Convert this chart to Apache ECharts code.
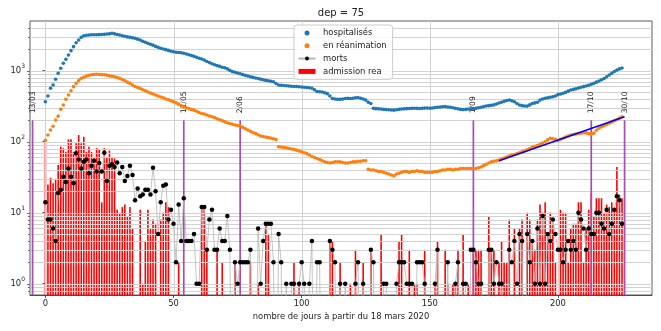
<!DOCTYPE html>
<html><head><meta charset="utf-8">
<script src="https://cdn.jsdelivr.net/npm/echarts@6/dist/echarts.min.js"></script>
<style>html,body{margin:0;padding:0;background:#fff;}#c{width:661px;height:331px;}</style>
</head><body><div id="c"></div>
<script>
// day index = position in array (0 = 18 mars 2020)
const hospitalises = [
366,440,565,630,757,920,1080,1270,1450,1660,
1915,2180,2480,2700,2950,3100,3150,3180,3200,3200,
3210,3220,3230,3250,3280,3300,3360,3300,3230,3180,
3100,3050,2990,2950,2900,2860,2780,2700,2600,2520,
2430,2360,2290,2200,2130,2070,2020,1980,1930,1880,
1850,1820,1800,1790,1760,1720,1680,1640,1590,1540,
1500,1460,1410,1350,1300,1250,1210,1180,1150,1120,
1100,1060,1010,970,950,930,905,880,860,840,
820,805,790,775,760,745,730,720,710,700,
660,630,625,620,615,610,605,600,600,595,
590,585,580,575,565,540,510,505,500,490,
475,440,405,400,395,395,398,405,408,405,
410,415,420,410,400,385,360,345,295,292,
290,288,285,283,282,280,278,282,285,288,
290,292,293,295,296,295,294,295,297,298,
296,298,302,305,308,310,312,308,305,300,
295,290,285,283,285,288,290,292,295,300,
305,312,318,322,325,330,340,350,360,370,
380,387,378,366,345,328,322,318,317,330,
345,352,360,385,400,410,415,422,430,440,
460,470,482,495,515,534,545,555,570,585,
596,610,625,645,663,690,715,745,775,820,
870,920,975,1020,1060,1090];
const reanimation = [
105,124,146,165,202,229,286,329,396,454,
522,596,663,724,780,810,840,860,875,885,
890,885,880,875,865,850,835,820,800,780,
750,720,690,663,630,600,580,560,540,520,
500,485,470,455,440,427,415,400,390,378,
366,352,338,322,308,300,292,285,278,268,
258,250,245,238,230,225,218,210,204,198,
190,185,180,176,172,169,166,160,152,146,
140,135,130,125,120,118,116,114,112,110,
107,85,84,83,82,80,79,78,76,74,
72,70,68,65,62,60,58,56,54,52,
51,50,51,52,52,52,51,50,50,51,
52,52,53,53,54,54,41,40,40,39,
38,38,37,36,35,34,33,35,36,37,
38,38,37,38,38,39,38,38,37,37,
37,37,38,38,39,40,40,41,41,40,
41,41,42,42,42,42,42,42,42,43,
44,46,48,50,52,53,54,55,57,59,
61,63,65,66,68,70,72,74,77,80,
84,86,88,92,96,100,106,112,110,108,
104,108,112,116,120,124,126,128,130,132,
134,133,130,128,132,145,155,162,168,175,
182,190,198,205,215,225];
const morts = [
14,8,8,6,4,19,21,32,27,42,
32,26,69,56,42,52,56,36,46,54,
38,50,38,70,28,46,48,44,51,36,
44,28,33,46,34,15,22,17,18,21,
21,18,43,20,5,14,24,25,8,11,
7,2,13,4,16,4,4,4,5,1,
1,12,12,3,8,11,3,3,6,4,
4,9,3,0,2,1,2,2,2,2,
3,0,0,6,1,4,7,7,7,2,
0,5,2,0,1,0,1,1,0,1,
2,1,0,1,4,0,2,2,0,0,
0,4,3,2,0,1,0,1,0,0,
0,1,2,0,1,0,0,3,2,0,
0,0,1,1,0,0,0,1,2,2,
2,1,1,1,0,2,2,2,1,0,
0,0,1,3,0,0,0,2,0,0,
1,2,0,1,1,0,3,3,2,1,
1,0,0,3,3,1,2,1,1,0,
0,3,2,4,1,5,4,0,5,2,
4,1,6,1,9,1,5,4,8,5,
3,3,2,3,4,3,4,3,10,8,
6,3,6,5,5,10,10,7,6,11,
5,7,11,17,15,7];
const admissionRea = [
105,25,31,26,30,47,85,81,72,108,
108,72,95,124,95,117,72,85,72,61,
81,78,14,81,60,75,60,58,11,10,
12,13,9,12,6,0,0,11,1,4,
11,6,8,7,0,8,10,14,12,0,
0,0,2,0,0,0,0,0,0,0,
0,12,12,3,0,0,0,3,0,2,
0,0,0,0,2,0,0,0,0,0,
2,0,0,1,0,0,7,5,0,0,
0,0,0,0,0,0,0,2,0,1,
0,0,0,0,0,0,0,0,0,0,
0,4,4,0,0,2,0,0,0,1,
0,3,0,0,2,0,0,3,0,0,
0,5,0,0,0,0,0,0,4,5,
0,0,3,0,1,1,0,0,3,0,
0,0,1,4,0,0,3,1,0,1,
1,3,0,5,0,1,0,3,3,3,
3,0,0,9,3,3,0,2,4,2,
2,8,0,6,0,6,8,0,10,8,
4,3,8,13,10,14,5,10,7,2,
0,11,10,10,2,6,7,7,14,14,
2,6,11,19,9,16,16,16,10,13,
12,14,11,44,18,16];
const eventDays = [-5, 54, 76, 167, 213, 226];
const eventLabels = ['13/03', '11/05', '2/06', '1/09', '17/10', '30/10'];
const eventTop = 200;
const fitX = [177, 226];
const fitY = [54, 225];
const xTicks = [0, 50, 100, 150, 200];
const yTicks = [1, 10, 100, 1000];
const yMinorTicks = [0.8, 0.9, 2, 3, 4, 5, 6, 7, 8, 9, 20, 30, 40, 50, 60, 70, 80, 90,
  200, 300, 400, 500, 600, 700, 800, 900, 2000, 3000, 4000];
const X_MIN = -6, X_MAX = 236.7, Y_MIN = 0.693, Y_MAX = 5010;

const FONT = 'DejaVu Sans';
const chart = echarts.init(document.getElementById('c'), null, {renderer: 'canvas'});
const gridColor = '#d2d2d2';

const hLines = yTicks.map(v => [0, v, 1]).concat(yMinorTicks.map(v => [0, v, 0]));
const vLines = xTicks.map(v => [v, 1]);

chart.setOption({
  animation: false,
  textStyle: {fontFamily: FONT},
  grid: {left: 30, right: 9, top: 21, bottom: 36, show: true, borderColor: '#333', borderWidth: 0.8, backgroundColor: 'transparent'},
  xAxis: {
    type: 'value', min: X_MIN, max: X_MAX,
    splitLine: {show: false},
    axisLine: {show: true, lineStyle: {color: '#333', width: 0.8}},
    axisTick: {show: true, customValues: xTicks, length: 3, lineStyle: {color: '#333', width: 0.8}},
    axisLabel: {customValues: xTicks, fontSize: 8.4, color: '#222', margin: 5, fontFamily: FONT}
  },
  yAxis: {
    type: 'log', logBase: 10, min: Y_MIN, max: Y_MAX,
    splitLine: {show: false},
    axisLine: {show: true, lineStyle: {color: '#333', width: 0.8}},
    axisTick: {show: true, customValues: yTicks, length: 3, lineStyle: {color: '#333', width: 0.8}},
    axisLabel: {
      customValues: yTicks, fontSize: 8.4, color: '#222', margin: 5, fontFamily: FONT,
      formatter: v => '10{s|' + Math.round(Math.log10(v)) + '}',
      rich: {s: {fontSize: 6, verticalAlign: 'top', lineHeight: 14, color: '#222', fontFamily: FONT}}
    }
  },
  legend: {
    data: [
      {name: 'hospitalisés', icon: 'circle'},
      {name: 'en réanimation', icon: 'circle'},
      {name: 'morts'},
      {name: 'admission rea', icon: 'rect'}
    ],
    selectedMode: false,
    orient: 'vertical', left: 294, top: 25,
    itemWidth: 17, itemHeight: 5, itemGap: 2.8,
    textStyle: {fontSize: 8.4, color: '#222', fontFamily: FONT, lineHeight: 10, padding: [0, 0, 0, 2.5]},
    backgroundColor: 'rgba(255,255,255,0.85)', borderColor: '#cccccc', borderWidth: 1, borderRadius: 3,
    padding: [3, 6, 3, 3.5]
  },
  graphic: [
    {type: 'text', x: 341, y: 13, style: {text: 'dep = 75', fontSize: 10, fontFamily: FONT, fill: '#222', align: 'center', verticalAlign: 'middle'}},
    {type: 'text', x: 341, y: 317, style: {text: 'nombre de jours à partir du 18 mars 2020', fontSize: 8.4, fontFamily: FONT, fill: '#222', align: 'center', verticalAlign: 'middle'}}
  ],
  series: [
    {
      type: 'custom', name: 'admission rea', z: 1,
      itemStyle: {color: '#ff0000'},
      data: admissionRea.map((v, i) => [i, v]).filter(d => d[1] > 0),
      encode: {x: 0, y: 1},
      renderItem: (params, api) => {
        const x = api.value(0), v = api.value(1);
        const top = api.coord([x, v]);
        const bot = api.coord([x, Y_MIN]);
        const w = 1.6;
        return {type: 'rect', shape: {x: top[0] - w / 2, y: top[1], width: w, height: bot[1] - top[1]}, style: {fill: '#ff0000'}};
      }
    },
    {
      type: 'custom', name: 'hgrid', z: 2, silent: true,
      data: hLines, encode: {x: 0, y: 1},
      renderItem: (params, api) => {
        const cs = params.coordSys;
        const y = Math.round(api.coord([api.value(0), api.value(1)])[1]) + 0.5;
        const major = api.value(2) === 1;
        return {type: 'group', children: [
          {type: 'line', shape: {x1: cs.x, y1: y, x2: cs.x + cs.width, y2: y}, style: {stroke: gridColor, lineWidth: 1}},
          {type: 'line', shape: {x1: cs.x - (major ? 3 : 2), y1: y, x2: cs.x, y2: y}, style: {stroke: '#333', lineWidth: 0.7}}
        ]};
      }
    },
    {
      type: 'custom', name: 'vgrid', z: 2, silent: true,
      data: vLines, encode: {x: 0, y: 1},
      renderItem: (params, api) => {
        const cs = params.coordSys;
        const x = Math.round(api.coord([api.value(0), api.value(1)])[0]) + 0.5;
        return {type: 'line', shape: {x1: x, y1: cs.y, x2: x, y2: cs.y + cs.height}, style: {stroke: gridColor, lineWidth: 1}};
      }
    },
    {
      type: 'custom', name: 'events', z: 3, silent: true,
      data: eventDays.map(d => [d, eventTop]), encode: {x: 0, y: 1},
      renderItem: (params, api) => {
        const d = api.value(0);
        const top = api.coord([d, api.value(1)]);
        const bot = api.coord([d, Y_MIN]);
        return {type: 'group', children: [
          {type: 'line', shape: {x1: top[0], y1: top[1], x2: bot[0], y2: bot[1]}, style: {stroke: '#a64db3', lineWidth: 1.7}},
          {type: 'text', x: top[0], y: top[1] - 7, rotation: Math.PI / 2,
           style: {text: eventLabels[params.dataIndex], fontSize: 7.6, fontFamily: FONT, fill: '#222', align: 'left', verticalAlign: 'middle', x: 0, y: 0}}
        ]};
      }
    },
    {
      type: 'line', name: 'morts', z: 4,
      data: morts.map((v, i) => [i, v > 0 ? v : 1e-3]),
      symbol: 'circle', symbolSize: 4.5, showAllSymbol: true, clip: true,
      lineStyle: {color: '#b5b5b5', width: 0.8},
      itemStyle: {color: '#000'}
    },
    {
      type: 'scatter', name: 'hospitalisés', z: 4,
      data: hospitalises.map((v, i) => [i, v]),
      symbolSize: 3.6, itemStyle: {color: '#1f77b4', opacity: 1}
    },
    {
      type: 'scatter', name: 'en réanimation', z: 4,
      data: reanimation.map((v, i) => [i, v]),
      symbolSize: 3.6, itemStyle: {color: '#ff7f0e', opacity: 1}
    },
    {
      type: 'line', name: 'fit', z: 5,
      data: fitX.map((x, i) => [x, fitY[i]]),
      symbol: 'none', lineStyle: {color: '#0000ff', width: 1.5}
    }
  ]
});
</script>
</body></html>
